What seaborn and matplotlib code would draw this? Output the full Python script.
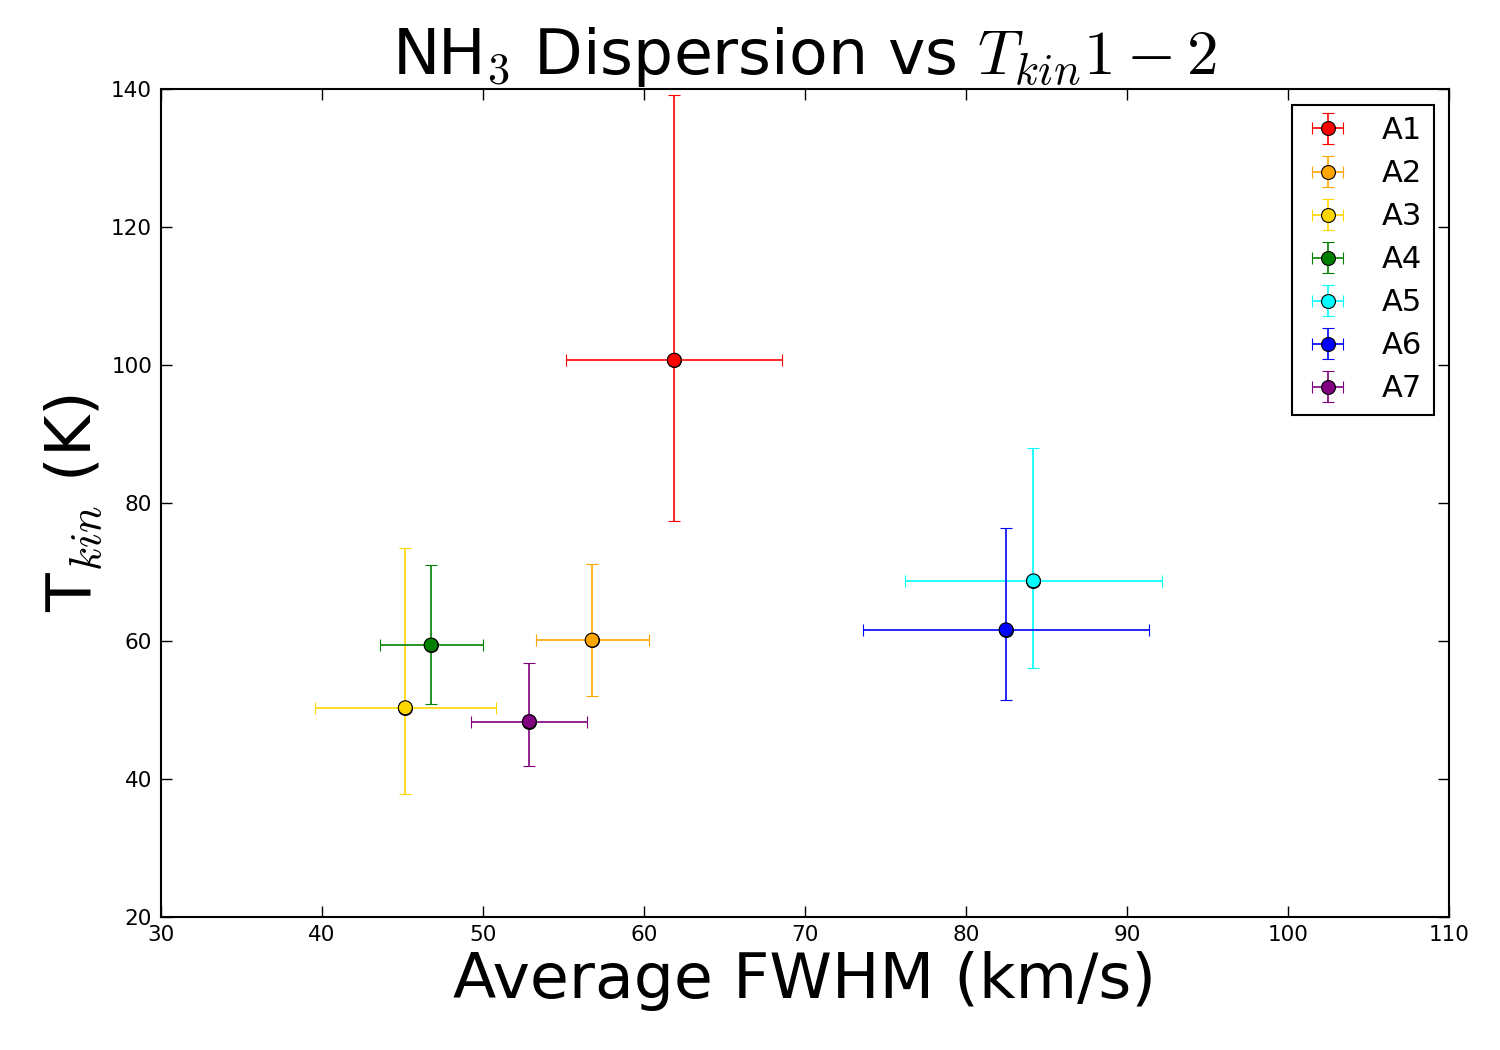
import pandas as pd
import matplotlib.pyplot as plt
import seaborn as sns

plt.switch_backend('Agg')

labels = ["A1", "A2", "A3", "A4", "A5", "A6", "A7"]
colors = ["red", "orange", "gold", "green", "cyan", "blue", "purple"]
fwhm = [61.9, 56.8, 45.2, 46.8, 84.2, 82.5, 52.9]
fwhm_err = [6.7, 3.5, 5.6, 3.2, 8.0, 8.9, 3.6]
tkin = [100.7, 60.1, 50.3, 59.4, 68.7, 61.6, 48.3]
tkin_err_lo = [23.3, 8.1, 12.5, 8.5, 12.6, 10.2, 6.4]
tkin_err_hi = [38.4, 11.1, 23.2, 11.6, 19.3, 14.8, 8.5]

df = pd.DataFrame({"label": labels, "fwhm": fwhm, "tkin": tkin})

sns.set_style("ticks")
plt.rcParams.update({
    "font.family": ["DejaVu Sans"],
    "mathtext.fontset": "cm",
    "text.color": "black",
    "axes.labelcolor": "black",
    "axes.edgecolor": "black",
    "xtick.color": "black",
    "ytick.color": "black",
    "xtick.direction": "in",
    "ytick.direction": "in",
    "xtick.top": True,
    "ytick.right": True,
    "xtick.major.size": 8,
    "ytick.major.size": 8,
    "axes.linewidth": 1.5,
})

fig = plt.figure(figsize=(15, 10.5), dpi=100)
ax = fig.add_axes([0.107, 0.127, 0.859, 0.788])

for i, lab in enumerate(labels):
    ax.errorbar(fwhm[i], tkin[i], xerr=fwhm_err[i],
                yerr=[[tkin_err_lo[i]], [tkin_err_hi[i]]],
                fmt='o', color=colors[i], ecolor=colors[i], markersize=10,
                markeredgecolor='black', markeredgewidth=0.8,
                elinewidth=1.2, capsize=4, capthick=1.2, label=lab, zorder=3)

sns.scatterplot(data=df, x="fwhm", y="tkin", hue="label", palette=colors,
                s=100, edgecolor="black", linewidth=0.8, legend=False, ax=ax, zorder=4)

ax.set_xlim(30, 110)
ax.set_ylim(20, 140)
ax.set_xticks(range(30, 111, 10))
ax.set_yticks(range(20, 141, 20))
ax.tick_params(labelsize=15.5, width=1, pad=6)
ax.set_xlabel("Average FWHM (km/s)", fontsize=45.5)
ax.set_ylabel("T$_{kin}$ (K)", fontsize=45.5)
ax.set_title("NH$_3$ Dispersion vs $T_{kin} 1-2$", fontsize=45.5)

leg = ax.legend(loc="upper right", fontsize=22, frameon=True, fancybox=False,
                edgecolor="black", borderpad=0.38, labelspacing=0.46,
                handlelength=1.6, handletextpad=0.97, borderaxespad=0.5)
leg.get_frame().set_linewidth(1.5)
leg.get_frame().set_alpha(1)

fig.savefig("out.png", dpi=100)
